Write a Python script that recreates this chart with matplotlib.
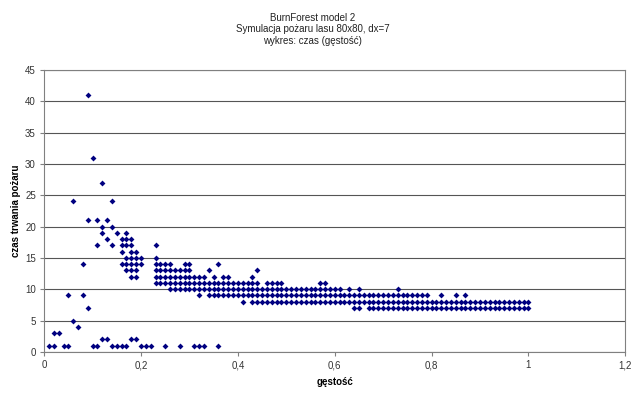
import matplotlib
matplotlib.use('Agg')
import matplotlib.pyplot as plt
from matplotlib.ticker import FuncFormatter

# burn time (y) -> densities in percent at which that time occurred
row_1 = [1, 2, 4, 5, 10, 11, 14, 15, 16, 17, 20, 21, 22, 25, 28, 31, 32, 33, 36]
row_2 = [12, 13, 18, 19]
row_3 = [2, 3]
row_4 = [7]
row_5 = [6]
row_7 = [9, 64, 65, 67, 68, 69, 70, 71, 72, 73, 74, 75, 76, 77, 78, 79, 80,
         81, 82, 83, 84, 85, 86, 87, 88, 89, 90, 91, 92, 93, 94, 95, 96, 97,
         98, 99, 100]
row_8 = [41, 43, 44, 45, 46, 47, 48, 49, 50, 51, 52, 53, 54, 55, 56, 57, 58,
         59, 60, 61, 62, 63, 64, 65, 66, 67, 68, 69, 70, 71, 72, 73, 74, 75,
         76, 77, 78, 79, 80, 81, 82, 83, 84, 85, 86, 87, 88, 89, 90, 91, 92,
         93, 94, 95, 96, 97, 98, 99, 100]
row_9 = [5, 8, 32, 34, 35, 36, 37, 38, 39, 40, 41, 42, 43, 44, 45, 46, 47, 48,
         49, 50, 51, 52, 53, 54, 55, 56, 57, 58, 59, 60, 61, 62, 63, 64, 65,
         66, 67, 68, 69, 70, 71, 72, 73, 74, 75, 76, 77, 78, 79, 82, 85, 87]
row_10 = [26, 27, 28, 29, 30, 31, 32, 33, 34, 35, 36, 37, 38, 39, 40, 41, 42,
          43, 44, 45, 46, 47, 48, 49, 50, 51, 52, 53, 54, 55, 56, 57, 58, 59,
          60, 61, 63, 65, 73]
row_11 = [23, 24, 25, 26, 27, 28, 29, 30, 31, 32, 33, 34, 35, 36, 37, 38, 39,
          40, 41, 42, 43, 44, 46, 47, 48, 49, 57, 58]
row_12 = [18, 19, 23, 24, 25, 26, 27, 28, 29, 30, 31, 32, 33, 35, 37, 38, 43]
row_13 = [17, 18, 19, 23, 24, 25, 26, 27, 28, 29, 30, 34, 44]
row_14 = [8, 16, 17, 18, 19, 20, 23, 24, 25, 26, 29, 30, 36]
row_15 = [17, 18, 19, 20, 23]
row_16 = [16, 18, 19]
row_17 = [11, 14, 16, 17, 18, 23]
row_18 = [13, 16, 17, 18]
row_19 = [12, 15, 17]
row_20 = [12, 14]
row_21 = [9, 11, 13]
row_24 = [6, 14]
row_27 = [12]
row_31 = [10]
row_41 = [9]

rows = {1: row_1, 2: row_2, 3: row_3, 4: row_4, 5: row_5, 7: row_7,
        8: row_8, 9: row_9, 10: row_10, 11: row_11, 12: row_12, 13: row_13,
        14: row_14, 15: row_15, 16: row_16, 17: row_17, 18: row_18,
        19: row_19, 20: row_20, 21: row_21, 24: row_24, 27: row_27,
        31: row_31, 41: row_41}

xs, ys = [], []
for t, dens in rows.items():
    for d in dens:
        xs.append(d / 100)
        ys.append(t)

plt.rcParams['font.family'] = ['Liberation Sans', 'DejaVu Sans']

fig = plt.figure(figsize=(6.4, 3.99), dpi=100)
ax = fig.add_axes([0.069, 0.118, 0.908, 0.707])

ax.scatter(xs, ys, marker='D', s=9, color='#000080', linewidths=0, zorder=3)

ax.set_xlim(0, 1.2)
ax.set_ylim(0, 45)
ax.set_xticks([0, 0.2, 0.4, 0.6, 0.8, 1.0, 1.2])
ax.set_yticks(range(0, 46, 5))
ax.xaxis.set_major_formatter(FuncFormatter(lambda v, p: ('%g' % round(v, 1)).replace('.', ',')))
ax.yaxis.grid(True, color='#555555', lw=0.8)
ax.set_axisbelow(True)
for s in ax.spines.values():
    s.set_color('#808080')
    s.set_linewidth(0.8)
ax.tick_params(direction='out', length=3, width=0.8, color='#808080',
               labelsize=7, labelcolor='#333333', pad=3)

ax.set_xlabel('gęstość', fontsize=7, fontweight='bold', labelpad=5)
ax.set_ylabel('czas trwania pożaru', fontsize=7, fontweight='bold', labelpad=3)

fig.text(0.488, 0.968, 'BurnForest model 2\nSymulacja pożaru lasu 80x80, dx=7\nwykres: czas (gęstość)',
         ha='center', va='top', fontsize=7, linespacing=1.2, color='#222222')

fig.savefig('out.png', dpi=100, facecolor='white')
